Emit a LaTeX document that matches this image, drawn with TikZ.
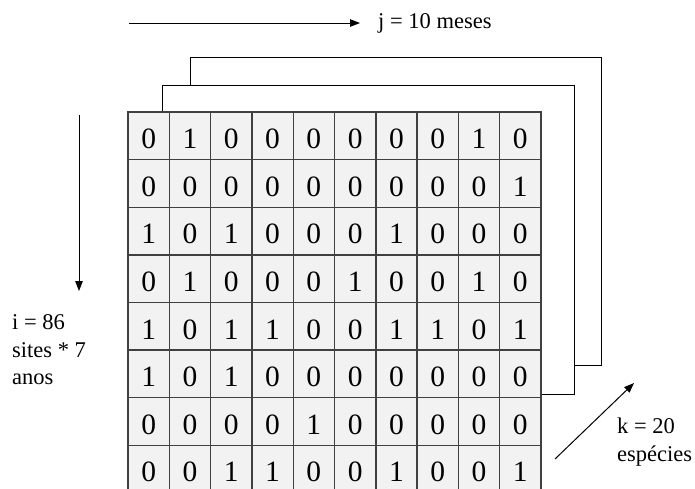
\documentclass[tikz,border=0pt]{standalone}
\usepackage{fontspec}
\setmainfont{Liberation Serif}
\usetikzlibrary{arrows.meta}

\begin{document}
\begin{tikzpicture}[x=1pt,y=-1pt,
  cell/.style={draw=black!75, line width=1.4pt, fill=black!5, minimum width=41.3pt, minimum height=47.6pt, inner sep=0pt, text height=25.6pt, text depth=0pt, font=\fontsize{29.5}{34}\selectfont},
  sheet/.style={draw=black, line width=1pt, fill=white},
  lbl/.style={anchor=west, align=left, inner sep=0pt, font=\fontsize{22.5}{27.5}\selectfont},
  axis/.style={-{Triangle[length=10pt,width=7.5pt]}, line width=1pt}]
  \useasboundingbox (0,0) rectangle (695,488);
  \clip (0,0) rectangle (695,488);
  \def\gx{128}\def\gy{112}\def\w{41.3}\def\h{47.6}
  % sheets behind the matrix
  \draw[sheet] (190.7,57) rectangle (601.7,365);
  \draw[sheet] (162.7,85) rectangle (574,394);
  % the matrix itself
  \foreach \row [count=\r] in {%
    {0,1,0,0,0,0,0,0,1,0},
    {0,0,0,0,0,0,0,0,0,1},
    {1,0,1,0,0,0,1,0,0,0},
    {0,1,0,0,0,1,0,0,1,0},
    {1,0,1,1,0,0,1,1,0,1},
    {1,0,1,0,0,0,0,0,0,0},
    {0,0,0,0,1,0,0,0,0,0},
    {0,0,1,1,0,0,1,0,0,1}}{
      \foreach \v [count=\c] in \row {
        \node[cell] (c-\r-\c) at ({\gx+(\c-0.5)*\w},{\gy+(\r-0.5)*\h}) {\v};
      }
  }
  % axes
  \coordinate (j0) at (129,23);
  \coordinate (j1) at (360,23);
  \draw[axis] (j0) -- (j1);
  \node[lbl] (jlab) at (378,23) {j = 10 meses};
  \coordinate (i0) at (79,115);
  \coordinate (i1) at (79,291);
  \draw[axis] (i0) -- (i1);
  \node[lbl] (ilab) at (12,350) {i = 86\\sites * 7\\anos};
  \coordinate (k0) at (555,459);
  \coordinate (k1) at (634,383);
  \draw[axis] (k0) -- (k1);
  \node[lbl] (klab) at (617,442) {k = 20\\espécies};
\end{tikzpicture}
\end{document}
